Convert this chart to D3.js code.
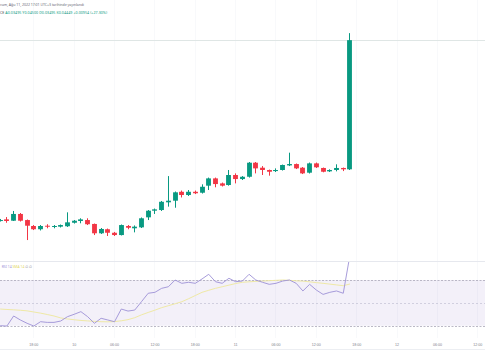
<!DOCTYPE html>
<html>
<head>
<meta charset="utf-8">
<script src="https://cdn.jsdelivr.net/npm/d3@7"></script>
<style>
  body { margin: 0; background: #fff; }
  svg { display: block; font-family: "Noto Sans", "DejaVu Sans", sans-serif; }
</style>
</head>
<body>
<div id="chart"></div>
<script>
// hourly candles, Aug 9 13:00 -> Aug 11 17:00 (local)
var hours = [
  "2022-08-09T13:00","2022-08-09T14:00","2022-08-09T15:00","2022-08-09T16:00","2022-08-09T17:00",
  "2022-08-09T18:00","2022-08-09T19:00","2022-08-09T20:00","2022-08-09T21:00","2022-08-09T22:00",
  "2022-08-09T23:00","2022-08-10T00:00","2022-08-10T01:00","2022-08-10T02:00","2022-08-10T03:00",
  "2022-08-10T04:00","2022-08-10T05:00","2022-08-10T06:00","2022-08-10T07:00","2022-08-10T08:00",
  "2022-08-10T09:00","2022-08-10T10:00","2022-08-10T11:00","2022-08-10T12:00","2022-08-10T13:00",
  "2022-08-10T14:00","2022-08-10T15:00","2022-08-10T16:00","2022-08-10T17:00","2022-08-10T18:00",
  "2022-08-10T19:00","2022-08-10T20:00","2022-08-10T21:00","2022-08-10T22:00","2022-08-10T23:00",
  "2022-08-11T00:00","2022-08-11T01:00","2022-08-11T02:00","2022-08-11T03:00","2022-08-11T04:00",
  "2022-08-11T05:00","2022-08-11T06:00","2022-08-11T07:00","2022-08-11T08:00","2022-08-11T09:00",
  "2022-08-11T10:00","2022-08-11T11:00","2022-08-11T12:00","2022-08-11T13:00","2022-08-11T14:00",
  "2022-08-11T15:00","2022-08-11T16:00","2022-08-11T17:00"
];

var opens = [
  0.03113,0.03123,0.03113,0.03163,0.03118,0.03074,0.03050,0.03076,0.03069,0.03069,
  0.03072,0.03098,0.03111,0.03118,0.03089,0.03020,0.03050,0.03024,0.03007,0.03074,
  0.03057,0.03064,0.03138,0.03187,0.03192,0.03249,0.03261,0.03327,0.03303,0.03327,
  0.03320,0.03372,0.03426,0.03389,0.03377,0.03451,0.03421,0.03438,0.03542,0.03505,
  0.03488,0.03480,0.03488,0.03522,0.03532,0.03505,0.03468,0.03537,0.03503,0.03478,
  0.03488,0.03503,0.03493
];
var highs = [
  0.03126,0.03140,0.03185,0.03170,0.03122,0.03081,0.03081,0.03087,0.03081,0.03085,
  0.03175,0.03118,0.03131,0.03131,0.03092,0.03059,0.03055,0.03030,0.03085,0.03081,
  0.03078,0.03137,0.03192,0.03203,0.03259,0.03443,0.03329,0.03336,0.03340,0.03336,
  0.03382,0.03432,0.03432,0.03395,0.03488,0.03463,0.03443,0.03547,0.03547,0.03517,
  0.03491,0.03500,0.03528,0.03616,0.03536,0.03510,0.03543,0.03543,0.03506,0.03493,
  0.03530,0.03506,0.04500
];
var lows = [
  0.03107,0.03098,0.03111,0.03107,0.02970,0.03044,0.03041,0.03057,0.03057,0.03063,
  0.03067,0.03092,0.03094,0.03081,0.03007,0.03015,0.03000,0.03000,0.03004,0.03050,
  0.03027,0.03059,0.03118,0.03163,0.03185,0.03217,0.03209,0.03285,0.03296,0.03310,
  0.03314,0.03340,0.03360,0.03366,0.03372,0.03389,0.03414,0.03432,0.03463,0.03451,
  0.03446,0.03473,0.03484,0.03517,0.03495,0.03458,0.03462,0.03503,0.03471,0.03473,
  0.03478,0.03480,0.03488
];
var closes = [
  0.03118,0.03111,0.03163,0.03113,0.03076,0.03050,0.03074,0.03069,0.03074,0.03081,
  0.03101,0.03113,0.03123,0.03087,0.03020,0.03052,0.03024,0.03007,0.03081,0.03061,
  0.03069,0.03131,0.03187,0.03197,0.03253,0.03261,0.03323,0.03303,0.03327,0.03316,
  0.03364,0.03426,0.03384,0.03372,0.03451,0.03421,0.03438,0.03542,0.03500,0.03488,
  0.03475,0.03488,0.03525,0.03532,0.03500,0.03463,0.03537,0.03508,0.03475,0.03488,
  0.03503,0.03493,0.04448
];

var rsiValues = [
  30.0,29.7,38.5,35.0,32.1,29.7,33.5,32.9,32.9,34.1,
  37.9,40.0,42.3,37.9,32.1,36.5,35.0,33.5,44.6,42.8,
  43.7,51.0,58.4,59.2,62.7,64.1,70.0,67.1,68.0,67.1,
  70.9,75.0,68.5,67.1,71.5,68.5,69.1,75.0,70.0,68.0,
  66.2,67.1,69.1,70.0,67.1,60.4,66.2,61.2,57.4,59.2,
  60.4,58.4,92.0
];
var rsiMa = [
  44.6,44.2,43.9,43.5,43.0,42.0,41.0,39.8,38.5,36.8,
  35.9,35.2,34.6,34.2,33.8,33.5,33.4,33.6,34.3,35.3,
  37.0,39.5,41.6,43.6,45.8,47.5,49.2,51.0,53.6,56.4,
  59.2,61.0,62.7,64.1,65.5,66.9,68.0,68.4,68.8,69.1,
  69.4,69.7,70.0,69.7,69.3,69.0,68.4,67.7,67.1,66.4,
  65.7,65.0,66.5
];

var tickTimes = [
  "2022-08-09T18:00","2022-08-10T00:00","2022-08-10T06:00","2022-08-10T12:00",
  "2022-08-10T18:00","2022-08-11T00:00","2022-08-11T06:00","2022-08-11T12:00",
  "2022-08-11T18:00","2022-08-12T00:00","2022-08-12T06:00","2022-08-12T12:00"
];
var tickLabels = ["18:00","10","06:00","12:00","18:00","11","06:00","12:00","18:00","12","06:00","12:00"];

var headerLine1 = "cum, Ağu 11, 2022 17:01 UTC+3 tarihinde yayınlandı";
var headerLine2 = "A0.03495  Y0.04500  D0.03495  K0.04449  +0.00954 (+27.30%)";

/*------------------------------------------*/

var W = 485, H = 360;
var parse = d3.timeParse("%Y-%m-%dT%H:%M");
var upColor = "#089981", downColor = "#f23645";

var candles = hours.map(function(h, i) {
  return { t: parse(h), o: opens[i], h: highs[i], l: lows[i], c: closes[i], rsi: rsiValues[i], ma: rsiMa[i] };
});

var svg = d3.select("#chart").append("svg")
    .attr("width", W).attr("height", H);

var x = d3.scaleTime()
    .domain([parse("2022-08-09T13:00"), parse("2022-08-12T12:00")])
    .range([-0.3, 477.3]);

var y = d3.scaleLinear().domain([0.03, 0.046]).range([236, 19.6]);
var yRsi = d3.scaleLinear().domain([30, 70]).range([325.7, 280]);

var step = x(parse("2022-08-09T14:00")) - x(parse("2022-08-09T13:00")),
    bodyW = step * 0.72;

// vertical grid (very faint)
svg.append("g").selectAll("line")
  .data(tickTimes)
  .enter().append("line")
  .attr("x1", function(d) { return Math.round(x(parse(d))) + 0.5; })
  .attr("x2", function(d) { return Math.round(x(parse(d))) + 0.5; })
  .attr("y1", 0).attr("y2", 338)
  .style("stroke", "#f8f9fb").style("stroke-width", 1);

// last price line
svg.append("line")
  .attr("x1", 0).attr("x2", W)
  .attr("y1", Math.round(y(closes[closes.length - 1])) + 0.5)
  .attr("y2", Math.round(y(closes[closes.length - 1])) + 0.5)
  .style("stroke", "#dfe6e5").style("stroke-width", 1);

// candles
var cg = svg.append("g");
cg.selectAll(".wick")
  .data(candles)
  .enter().append("line")
  .attr("class", "wick")
  .attr("x1", function(d) { return Math.round(x(d.t)) + 0.5; })
  .attr("x2", function(d) { return Math.round(x(d.t)) + 0.5; })
  .attr("y1", function(d) { return y(d.h); })
  .attr("y2", function(d) { return y(d.l); })
  .style("stroke", function(d) { return d.c >= d.o ? upColor : downColor; })
  .style("stroke-width", 1);

cg.selectAll(".body")
  .data(candles)
  .enter().append("rect")
  .attr("class", "body")
  .attr("x", function(d) { return Math.round(x(d.t)) + 0.5 - bodyW / 2; })
  .attr("y", function(d) { return y(Math.max(d.o, d.c)); })
  .attr("width", bodyW)
  .attr("height", function(d) { return Math.max(1, Math.abs(y(d.o) - y(d.c))); })
  .style("fill", function(d) { return d.c >= d.o ? upColor : downColor; });

// header
svg.append("text")
  .attr("x", 0).attr("y", 6)
  .attr("textLength", 84)
  .style("font-size", "3.6px").style("fill", "#6a6d78")
  .text(headerLine1);
var h2 = svg.append("text").attr("x", 0).attr("y", 13.5)
  .attr("textLength", 107).style("font-size", "3.6px");
h2.append("tspan").style("fill", "#4a4d58").text("CE ");
h2.append("tspan").style("fill", upColor).text(headerLine2);

// pane separator
svg.append("line")
  .attr("x1", 0).attr("x2", W).attr("y1", 261.5).attr("y2", 261.5)
  .style("stroke", "#e6e8ee").style("stroke-width", 1);

// RSI pane
var rg = svg.append("g");
rg.append("rect")
  .attr("x", 0).attr("width", W)
  .attr("y", yRsi(70)).attr("height", yRsi(30) - yRsi(70))
  .style("fill", "#7e57c2").style("fill-opacity", 0.09);

[70, 50, 30].forEach(function(v) {
  rg.append("line")
    .attr("x1", 0).attr("x2", W)
    .attr("y1", Math.round(yRsi(v)) + 0.5).attr("y2", Math.round(yRsi(v)) + 0.5)
    .style("stroke", v === 50 ? "#c8c6d8" : "#a9a7b8")
    .style("stroke-width", 0.8)
    .style("stroke-dasharray", v === 50 ? "2,2" : "2,1.5");
});

svg.append("clipPath").attr("id", "rsiClip")
  .append("rect").attr("x", 0).attr("y", 262).attr("width", W).attr("height", 76);

var maLine = d3.line()
  .x(function(d) { return x(d.t) + 0.5; })
  .y(function(d) { return yRsi(d.ma); });
var rsiLine = d3.line()
  .x(function(d) { return x(d.t) + 0.5; })
  .y(function(d) { return yRsi(d.rsi); });

rg.append("path").datum(candles)
  .attr("d", maLine)
  .attr("clip-path", "url(#rsiClip)")
  .style("fill", "none").style("stroke", "#efe9a6").style("stroke-width", 1);

rg.append("path").datum(candles)
  .attr("d", rsiLine)
  .attr("clip-path", "url(#rsiClip)")
  .style("fill", "none").style("stroke", "#9d91d6").style("stroke-width", 0.9);

var lg = rg.append("text").attr("x", 1.7).attr("y", 267.5).style("font-size", "3.4px");
lg.append("tspan").style("fill", "#9d91d6").text("RSI 14 ");
lg.append("tspan").style("fill", "#e3d86a").text("SMA 14 ");
lg.append("tspan").style("fill", "#8a8d98").text(" ∅  ∅");

// time axis
var xAxis = d3.axisBottom(x)
  .tickValues(tickTimes.map(parse))
  .tickFormat(function(d, i) { return tickLabels[i]; })
  .tickSize(0).tickPadding(0);

var ax = svg.append("g").attr("transform", "translate(0,344)").call(xAxis);
ax.select(".domain").remove();
ax.selectAll("text")
  .style("font-size", "3.6px").style("fill", "#7d808a")
  .attr("dy", "0.35em").attr("y", 1);

svg.append("line")
  .attr("x1", 0).attr("x2", W).attr("y1", 349.5).attr("y2", 349.5)
  .style("stroke", "#eceef2").style("stroke-width", 1);
</script>
</body>
</html>
